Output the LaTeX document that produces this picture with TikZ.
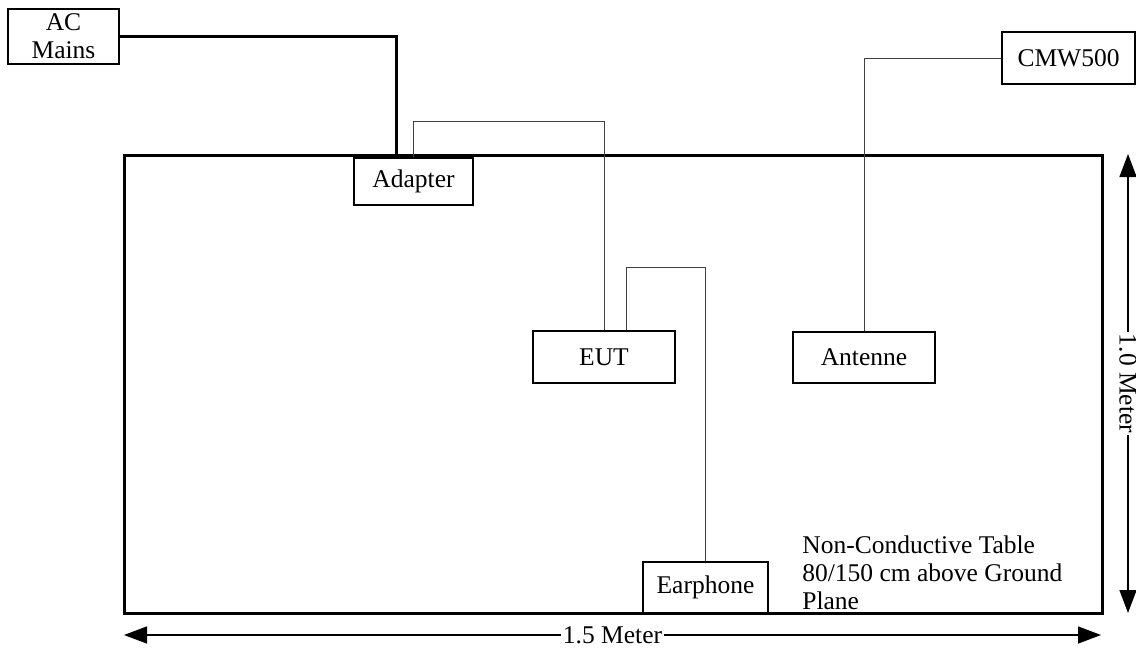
\documentclass[tikz,border=0pt]{standalone}
\usepackage{fontspec}
\setmainfont{Liberation Serif}
\usepackage{tikz}
\usetikzlibrary{arrows.meta,positioning}

\tikzset{
  unit/.style={draw, line width=0.7pt, inner sep=0pt, align=center},
  cable/.style={line width=0.45pt, draw=black!75},
  mains/.style={line width=1.5pt},
  dimline/.style={line width=0.7pt, {Triangle[length=11.5pt,width=8.5pt]}-{Triangle[length=11.5pt,width=8.5pt]}},
  dimlabel/.style={fill=white, inner sep=1pt}
}

\begin{document}
\begin{tikzpicture}[x=0.5pt,y=-0.5pt,font=\fontsize{12.75}{14}\selectfont]
  \useasboundingbox[fill=white] (0,0) rectangle (1136,648);

  % table
  \node[draw, line width=1.5pt, minimum width=489pt, minimum height=229pt] (table) at (613,384) {};

  % units
  \node[unit, minimum width=55.5pt, minimum height=27.5pt] (acmains) at (63.5,36.5) {AC\\Mains};
  \node[unit, minimum width=59.5pt, minimum height=23.5pt] (adapter) at (413.5,181.5) {Adapter};
  \node[unit, minimum width=71pt, minimum height=26pt] (eut) at (604,357) {EUT};
  \node[unit, minimum width=71pt, minimum height=25.5pt] (antenne) at (864,357.5) {Antenne};
  \node[unit, minimum width=62.5pt, minimum height=25.5pt] (earphone) at (705.5,587.5) {Earphone};
  \node[unit, minimum width=66.5pt, minimum height=26pt] (cmw) at (1068.5,58) {CMW500};

  \node[anchor=north west, inner sep=0pt, align=left] (note) at (802,535)
    {Non-Conductive Table\\80/150 cm above Ground\\Plane};

  % cables
  \draw[mains] (acmains.east) -| ([xshift=-8.75pt]adapter.north);
  \draw[cable] (adapter.north) -- ++(0,-36) -| (eut.north);
  \draw[cable] ([xshift=11pt]eut.north) -- ++(0,-63) -| (earphone.north);
  \draw[cable] (antenne.north) |- (cmw.west);

  % dimensions
  \coordinate (wl) at (124,635);
  \coordinate (wr) at (1101,635);
  \coordinate (ht) at (1128,154);
  \coordinate (hb) at (1128,613);
  \draw[dimline] (wl) -- node[dimlabel] {1.5 Meter} (wr);
  \draw[dimline] (ht) -- node[dimlabel, rotate=-90] {1.0 Meter} (hb);
\end{tikzpicture}
\end{document}
